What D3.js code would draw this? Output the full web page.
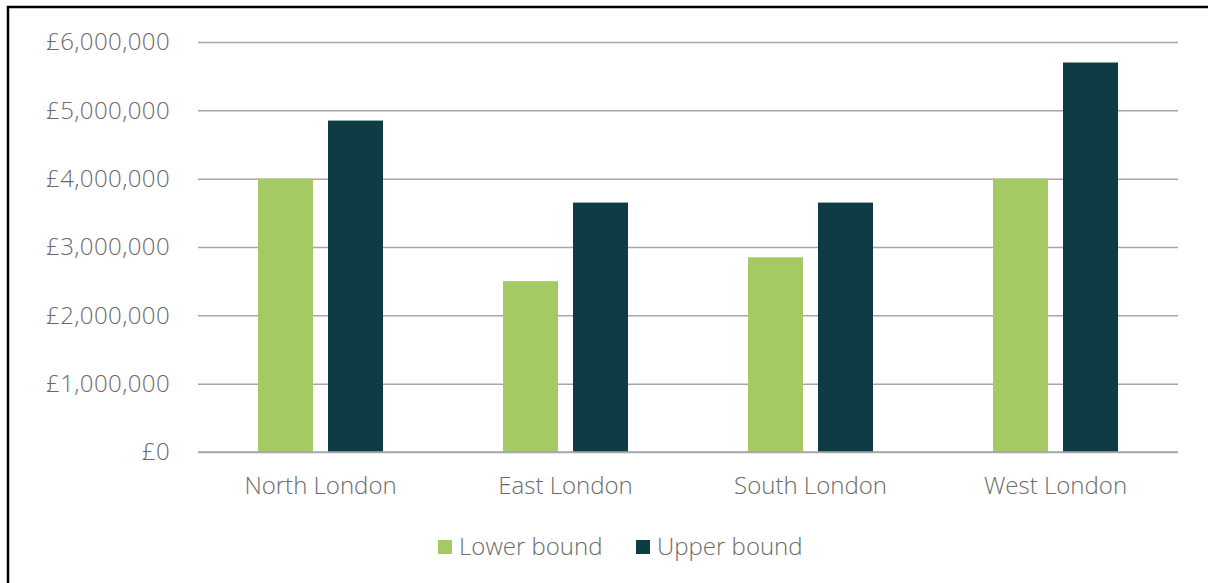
<!DOCTYPE html>
<html>
<head>
<meta charset="utf-8">
<script src="https://cdn.jsdelivr.net/npm/d3@7"></script>
<style>
  html, body { margin: 0; padding: 0; background: #fff; }
  svg { display: block; }
  text { font-family: "Open Sans", "Noto Sans", sans-serif; font-weight: 300; fill: #6b6b6b; }
</style>
</head>
<body>
<svg id="chart" width="1208" height="583"></svg>
<script>
// Regional estimates, lower and upper bounds
const regions = ["North London", "East London", "South London", "West London"];
const lowerBound = [4000000, 2500000, 2850000, 4000000];
const upperBound = [4850000, 3650000, 3650000, 5700000];
const seriesNames = ["Lower bound", "Upper bound"];
const yTicks = [0, 1000000, 2000000, 3000000, 4000000, 5000000, 6000000];

const colors = ["#a5c963", "#0d3c44"];
const fontFamily = '"Open Sans", "Noto Sans", sans-serif';
const svg = d3.select("#chart");

// outer frame
svg.append("rect")
  .attr("x", 8).attr("y", 7)
  .attr("width", 1220).attr("height", 600)
  .attr("fill", "none").attr("stroke", "#000").attr("stroke-width", 2.5);

const plot = { left: 198, right: 1178, top: 42, bottom: 452 };

const x = d3.scaleBand().domain(regions).range([plot.left, plot.right]).paddingInner(0).paddingOuter(0);
const y = d3.scaleLinear().domain([0, 6000000]).range([plot.bottom, plot.top]);

// bars sit in the middle of each band: two 55px bars with a 15px gap
const barW = 55, barGap = 15;

const fmt = v => "£" + d3.format(",")(v);

// gridlines and value labels
const yAxis = d3.axisLeft(y).tickValues(yTicks).tickFormat(fmt).tickSize(-(plot.right - plot.left)).tickPadding(28);
const gy = svg.append("g").attr("transform", `translate(${plot.left},0)`).call(yAxis);
gy.select(".domain").remove();
gy.selectAll(".tick line").attr("stroke", "#a6a6a6").attr("stroke-width", 1.5);
gy.selectAll(".tick text").attr("font-size", 24).attr("fill", "#6b6b6b")
  .style("letter-spacing", "0.4px")
  .style("font-family", fontFamily).style("font-weight", 300);

// bars
const data = regions.map((r, i) => ({ region: r, values: [lowerBound[i], upperBound[i]] }));
const groups = svg.append("g").selectAll("g").data(data).join("g")
  .attr("transform", d => `translate(${x(d.region) + (x.bandwidth() - (barW * 2 + barGap)) / 2},0)`);
groups.selectAll("rect").data(d => d.values.map((v, k) => ({ v, k }))).join("rect")
  .attr("x", d => d.k * (barW + barGap))
  .attr("width", barW)
  .attr("y", d => y(d.v))
  .attr("height", d => y(0) - y(d.v))
  .attr("fill", d => colors[d.k]);

// baseline over bars
svg.append("line").attr("x1", plot.left).attr("x2", plot.right)
  .attr("y1", y(0)).attr("y2", y(0)).attr("stroke", "#a6a6a6").attr("stroke-width", 1.5);

// category labels
const xAxis = d3.axisBottom(x).tickSize(0).tickPadding(25);
const gx = svg.append("g").attr("transform", `translate(0,${plot.bottom})`).call(xAxis);
gx.select(".domain").remove();
gx.selectAll(".tick text").attr("font-size", 24).attr("fill", "#6b6b6b")
  .style("font-family", fontFamily).style("font-weight", 300);

// legend
const legendX = [438, 636];
const legend = svg.append("g").selectAll("g").data(seriesNames).join("g")
  .attr("transform", (d, i) => `translate(${legendX[i]},540)`);
legend.append("rect").attr("width", 14).attr("height", 14).attr("fill", (d, i) => colors[i]);
legend.append("text").attr("x", 21).attr("y", 7).attr("dy", "0.35em")
  .attr("font-size", 24).text(d => d);
</script>
</body>
</html>
